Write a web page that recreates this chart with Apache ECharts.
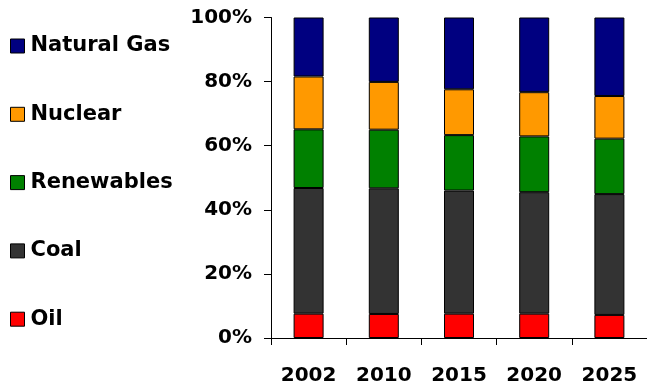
<!DOCTYPE html>
<html>
<head>
<meta charset="utf-8">
<script src="https://cdn.jsdelivr.net/npm/echarts@6/dist/echarts.min.js"></script>
<style>
  html, body { margin: 0; padding: 0; background: #fff; }
  #chart { width: 647px; height: 388px; }
</style>
</head>
<body>
<div id="chart"></div>
<script>
// Energy mix shares by year (percent of total), stacked bottom to top
const years = ['2002', '2010', '2015', '2020', '2025'];
const oil = [7.6, 7.5, 7.6, 7.6, 7.2];
const coal = [39.2, 39.2, 38.4, 37.9, 37.7];
const renewables = [18.3, 18.3, 17.3, 17.4, 17.3];
const nuclear = [16.5, 14.9, 14.3, 13.8, 13.3];
const naturalGas = [18.4, 20.1, 22.4, 23.3, 24.5];
const yTicks = [0, 20, 40, 60, 80, 100];

const font = 'DejaVu Sans';
const labelStyle = { color: '#000', fontFamily: font, fontWeight: 'bold', fontSize: 20 };

function bar(name, data, color) {
  return {
    name: name,
    type: 'bar',
    stack: 'total',
    data: data,
    barWidth: 30,
    itemStyle: { color: color, borderColor: '#000', borderWidth: 1 }
  };
}

const chart = echarts.init(document.getElementById('chart'), null, { renderer: 'canvas' });
chart.setOption({
  animation: false,
  backgroundColor: '#fff',
  grid: { left: 271, top: 17.5, bottom: 50, right: -4, containLabel: false },
  legend: {
    orient: 'vertical',
    left: 10,
    top: 35.5,
    padding: 0,
    itemWidth: 14,
    itemHeight: 14,
    itemGap: 47.3,
    icon: 'rect',
    data: ['Natural Gas', 'Nuclear', 'Renewables', 'Coal', 'Oil'],
    textStyle: Object.assign({}, labelStyle, { fontSize: 21, lineHeight: 21, padding: [0, 0, 0, 1] }),
    itemStyle: { borderColor: '#000', borderWidth: 1 }
  },
  xAxis: {
    type: 'category',
    data: years,
    boundaryGap: true,
    axisLine: { lineStyle: { color: '#000', width: 1 } },
    axisTick: { show: true, length: 7, inside: false, lineStyle: { color: '#000' } },
    axisLabel: Object.assign({ margin: 28 }, labelStyle)
  },
  yAxis: {
    type: 'value',
    min: yTicks[0],
    max: yTicks[yTicks.length - 1],
    interval: yTicks[1] - yTicks[0],
    splitLine: { show: false },
    axisLine: { show: true, lineStyle: { color: '#000', width: 1 } },
    axisTick: { show: true, length: 7, lineStyle: { color: '#000' } },
    axisLabel: Object.assign({ margin: 19, formatter: '{value}%' }, labelStyle)
  },
  series: [
    bar('Oil', oil, '#ff0000'),
    bar('Coal', coal, '#333333'),
    bar('Renewables', renewables, '#008000'),
    bar('Nuclear', nuclear, '#ff9900'),
    bar('Natural Gas', naturalGas, '#000080')
  ]
});
</script>
</body>
</html>
